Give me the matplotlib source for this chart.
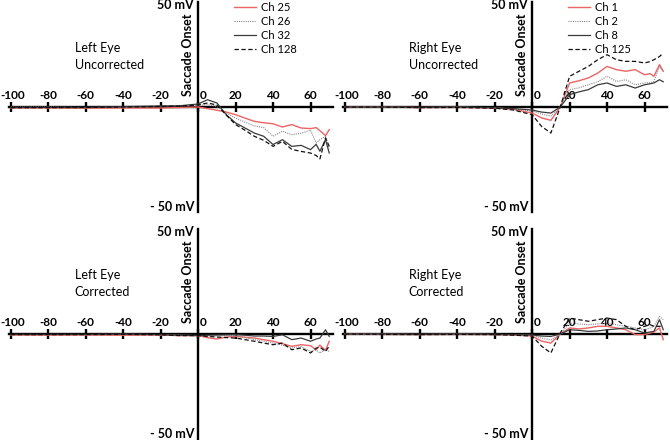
import matplotlib
import numpy as np

matplotlib.use("Agg")
import matplotlib.pyplot as plt
from matplotlib.transforms import ScaledTranslation

plt.rcParams["font.family"] = ["Lato", "DejaVu Sans"]

# time grid (ms relative to saccade onset)
t = [-100, -80, -60, -40, -20, -10, 0, 5, 10, 15, 20, 25, 30, 35, 40, 45, 50, 55, 60, 63, 65, 68, 70]

# left eye, uncorrected (mV)
lu_ch25 = [-0.5, -0.5, -0.6, -0.5, -0.5, -0.3, 0, -0.8, -1.6, -2.5, -3.8, -5.5, -7.1, -7.8, -8.3, -9.9, -8.7, -10.4, -10.7, -10.2, -11.7, -14.2, -11.2]
lu_ch26 = [0, 0, -0.2, 0, 0.3, 0.5, 0.8, 1.2, 0.3, -3.0, -5.4, -7.5, -9.4, -10.2, -14.5, -12.0, -13.7, -13.0, -11.5, -17.8, -16.2, -14.5, -20.3]
lu_ch32 = [-0.3, -0.2, -0.3, 0.2, 0.5, 0.6, 1.5, 3.6, 2.0, -3.8, -7.9, -10.4, -12.9, -14.5, -18.6, -16.2, -19.5, -19.0, -21.1, -18.5, -21.9, -16.2, -22.8]
lu_ch128 = [-0.3, -0.3, -0.2, 0, 0.3, 0.4, 1.0, 2.0, 1.0, -4.0, -8.7, -11.5, -14.5, -16.5, -19.5, -17.0, -21.0, -22.0, -22.8, -24.0, -25.7, -15.3, -19.5]

# right eye, uncorrected
ru_ch1 = [0, 0, -0.3, -0.2, -0.5, -1.2, -3.0, -5.4, -6.6, 0, 11.9, 13.0, 14.4, 16.8, 20.1, 18.5, 17.7, 18.5, 16.0, 16.5, 15.2, 21.0, 17.7]
ru_ch2 = [0, 0, -0.2, 0, -0.4, -1.0, -2.0, -3.5, -4.5, 0, 8.6, 9.5, 11.0, 12.5, 15.2, 12.7, 13.5, 11.0, 11.9, 12.0, 12.7, 20.0, 17.7]
ru_ch8 = [0, 0, -0.2, 0, -0.4, -0.8, -1.5, -2.5, -3.0, 0, 6.1, 7.5, 8.6, 11.0, 11.9, 10.2, 11.0, 9.4, 11.0, 11.5, 11.9, 13.5, 12.5]
ru_ch125 = [0, 0, -0.3, -0.2, -0.6, -1.5, -3.8, -9.6, -12.9, 0, 15.2, 17.7, 20.1, 23.4, 25.9, 23.4, 22.6, 22.6, 21.8, 22.5, 23.4, 25.0, 26.7]

# left eye, corrected
lc_ch25 = [-0.5, -0.6, -0.5, -0.6, -0.5, -0.8, -0.8, -1.8, -2.5, -1.5, -1.2, -1.6, -2.0, -2.8, -3.6, -4.8, -6.1, -5.3, -5.8, -7.8, -5.5, -8.1, -3.6]
lc_ch26 = [-0.3, -0.3, -0.3, -0.2, -0.3, -0.5, -0.8, -1.0, -1.0, -0.8, -0.8, -1.8, -2.8, -3.6, -4.5, -5.5, -6.9, -6.2, -8.6, -8.0, -9.4, -7.8, -8.6]
lc_ch32 = [-0.2, -0.2, -0.2, 0, -0.3, -0.6, -0.8, -0.6, -0.5, -0.4, -0.3, -0.6, -1.0, -1.0, -1.2, -0.4, -2.8, -2.0, -3.6, -2.5, -2.0, 2.1, -1.2]
lc_ch128 = [-0.3, -0.3, -0.3, -0.2, -0.4, -0.8, -0.8, -1.2, -1.5, -1.8, -2.0, -2.8, -3.6, -4.5, -5.3, -4.5, -7.8, -6.9, -9.4, -7.0, -6.5, -8.6, -6.0]

# right eye, corrected
rc_ch1 = [0, -0.2, -0.3, -0.2, -0.3, -0.5, -1.0, -3.5, -4.5, 0, 3.0, 2.5, 3.0, 3.8, 3.8, 3.0, 2.1, -0.3, -0.3, 0.5, 1.0, 3.0, -2.8]
rc_ch2 = [0, 0, -0.2, 0, -0.2, -0.3, -0.5, -2.0, -3.0, 0, 5.4, 5.0, 4.6, 5.0, 5.4, 4.6, 3.8, 3.0, 2.1, 3.0, 3.8, 8.7, 7.1]
rc_ch8 = [0, 0, -0.2, 0, -0.2, -0.3, -0.5, -1.0, -1.2, 0, 2.1, 1.8, 1.3, 1.5, 2.1, 2.5, 3.0, 2.1, 0.5, 1.0, 1.3, 7.1, 2.1]
rc_ch125 = [0, -0.2, -0.3, -0.2, -0.3, -0.6, -1.0, -6.0, -9.4, 0.5, 7.9, 7.1, 6.3, 7.1, 7.9, 7.1, 3.8, 2.1, 3.8, 4.6, 3.8, 3.8, 3.8]

left_labels = ["Ch 25", "Ch 26", "Ch 32", "Ch 128"]
right_labels = ["Ch 1", "Ch 2", "Ch 8", "Ch 125"]
xticks = [-100, -80, -60, -40, -20, 0, 20, 40, 60]

STYLES = [
    dict(color="#ec6464", lw=1.0, ls="-"),
    dict(color="#8a8a8a", lw=0.8, ls=(0, (1, 1))),
    dict(color="#3a3a3a", lw=0.9, ls="-"),
    dict(color="#111111", lw=0.9, ls=(0, (3.5, 2))),
]

W, H = 670, 440
fig = plt.figure(figsize=(W / 100, H / 100), dpi=100)

# small nudges (px) for tick labels that sit on the vertical axis / figure edge
NUDGE = {"0": 5, "-100": 2}


def panel(left_px, top_px, series, labels, eye, state, legend):
    ax = fig.add_axes([left_px / W, 1 - (top_px + 210) / H, 324 / W, 210 / H])
    ax.set_xlim(-101, 72)
    ax.set_ylim(-52, 52)
    for s, lab, st in zip(series, labels, STYLES):
        ax.plot(t, s, label=lab, **st)
    ax.spines["left"].set_position(("data", 0))
    ax.spines["top"].set_position(("data", 0))
    ax.spines["bottom"].set_visible(False)
    ax.spines["right"].set_visible(False)
    for k in ("left", "top"):
        ax.spines[k].set_linewidth(1.7)
        ax.spines[k].set_zorder(1)
    ax.xaxis.tick_top()
    ax.set_xticks(xticks)
    ax.set_xticklabels([str(v) for v in xticks])
    ax.tick_params(axis="x", direction="inout", length=7, width=1.7, pad=1,
                   labelsize=8.5)
    for lbl in ax.get_xticklabels():
        lbl.set_fontweight("bold")
        dx = NUDGE.get(lbl.get_text())
        if dx:
            lbl.set_transform(lbl.get_transform()
                              + ScaledTranslation(dx / 100, 0, fig.dpi_scale_trans))
    ax.set_yticks([])
    ax.patch.set_visible(False)

    ax.text(-2.2, 50.3, "50 mV", ha="right", va="center", fontsize=9, fontweight="bold")
    ax.text(-2.2, -49.5, "- 50 mV", ha="right", va="center", fontsize=9, fontweight="bold")
    ax.text(-5.5, 26, "Saccade Onset", rotation=90, ha="center", va="center",
            fontsize=9, fontweight="bold")
    ax.text(-66, 25, f"{eye}\n{state}", ha="left", va="center", fontsize=9,
            linespacing=1.45)
    if legend:
        ax.legend(loc="upper left", bbox_to_anchor=(0.695, 1.0), frameon=False,
                  fontsize=8, handlelength=2.0, handletextpad=0.45,
                  labelspacing=0.28, borderpad=0, borderaxespad=0)
    return ax


panel(9, 2, [lu_ch25, lu_ch26, lu_ch32, lu_ch128], left_labels, "Left Eye", "Uncorrected", True)
panel(343, 2, [ru_ch1, ru_ch2, ru_ch8, ru_ch125], right_labels, "Right Eye", "Uncorrected", True)
panel(9, 229, [lc_ch25, lc_ch26, lc_ch32, lc_ch128], left_labels, "Left Eye", "Corrected", False)
panel(343, 229, [rc_ch1, rc_ch2, rc_ch8, rc_ch125], right_labels, "Right Eye", "Corrected", False)

fig.savefig("out.png", dpi=100)
